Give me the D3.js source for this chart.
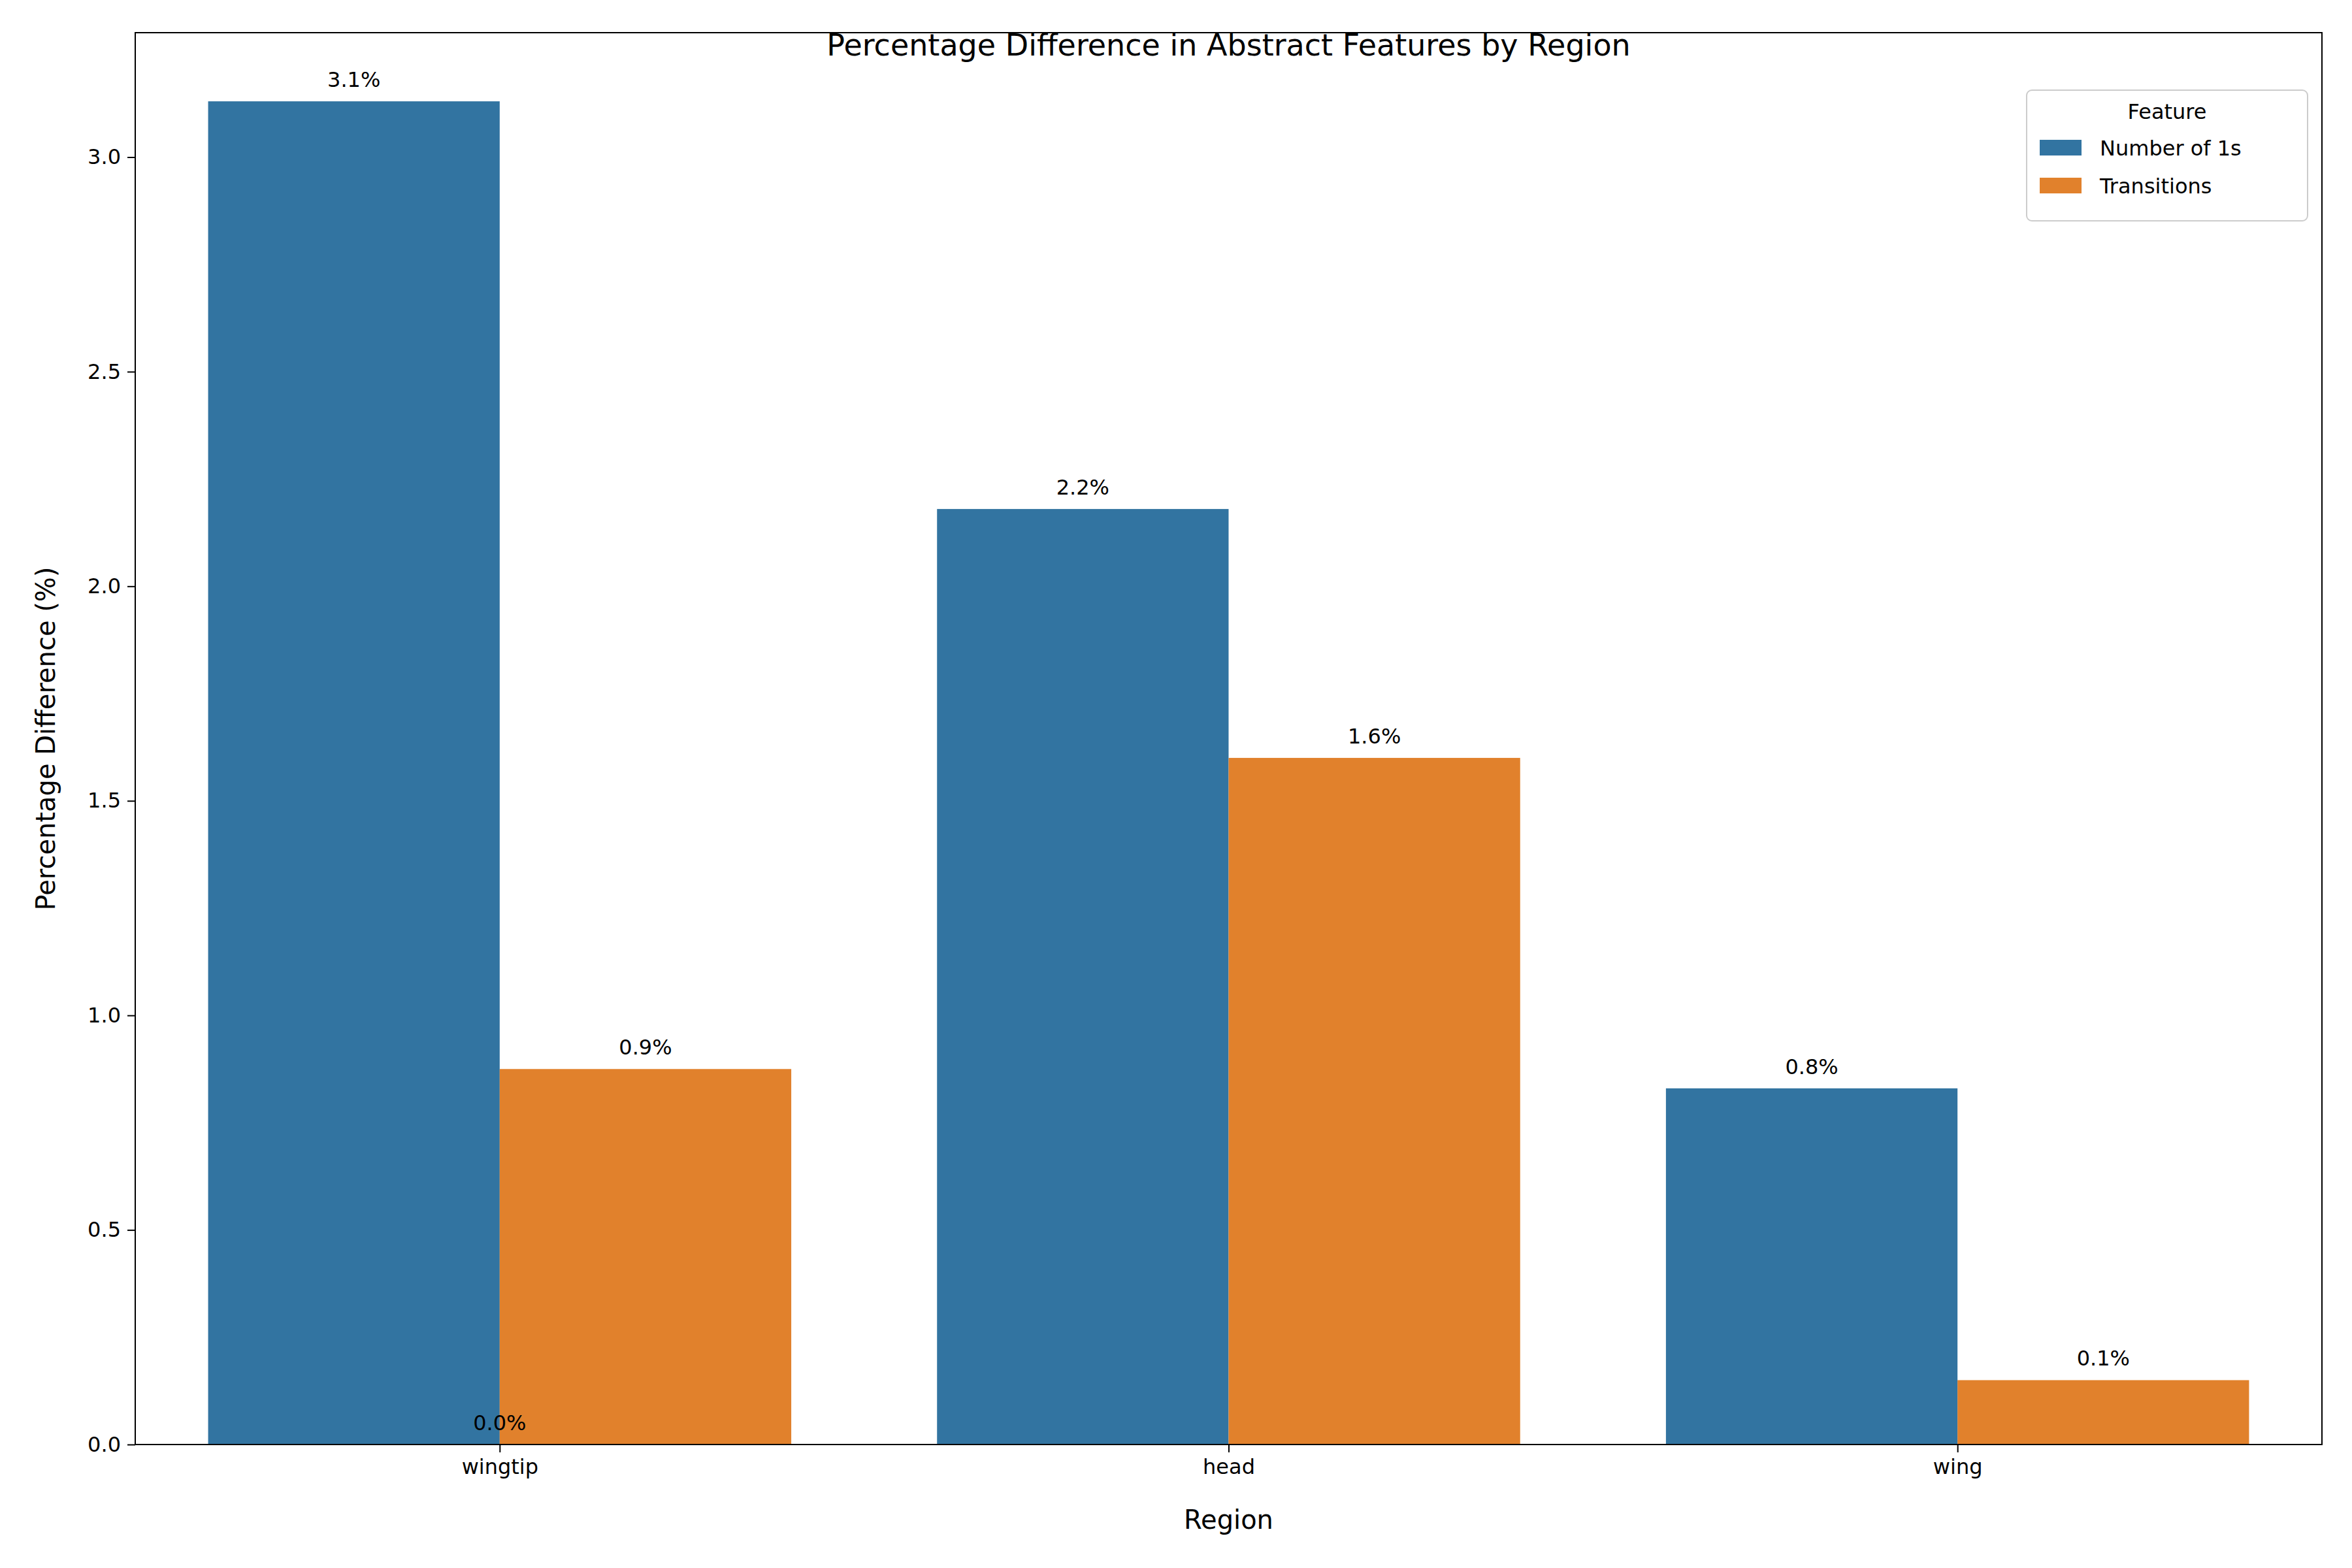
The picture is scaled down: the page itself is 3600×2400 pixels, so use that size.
<!DOCTYPE html>
<html><head><meta charset="utf-8">
<script src="https://cdn.jsdelivr.net/npm/d3@7"></script>
<style>body{margin:0;background:#fff}text{font-family:"DejaVu Sans",sans-serif}</style>
</head><body>
<svg id="chart" width="3600" height="2400"></svg>
<script>
const regions = ["wingtip", "head", "wing"]
const features = ["Number of 1s", "Transitions"]
const numOnes = [3.13, 2.18, 0.83]
const transitions = [0.875, 1.60, 0.15]
const yTicks = [0, 0.5, 1.0, 1.5, 2.0, 2.5, 3.0]
const colors = ["#3274a1", "#e1812c"]

const svg = d3.select("#chart")
const m = { left: 207, right: 3554, top: 50, bottom: 2211 }
const x = d3.scaleLinear().domain([-0.5, 2.5]).range([m.left, m.right])
const y = d3.scaleLinear().domain([0, 3.29]).range([m.bottom, m.top])
const series = [numOnes, transitions]
const bw = 0.4

series.forEach((vals, s) => {
  svg.append("g").selectAll("rect").data(vals).join("rect")
    .attr("x", (d, i) => x(i - 0.4 + s * bw))
    .attr("width", x(bw) - x(0))
    .attr("y", d => y(d))
    .attr("height", d => y(0) - y(d))
    .attr("fill", colors[s])
  svg.append("g").selectAll("text").data(vals).join("text")
    .attr("x", (d, i) => x(i - 0.2 + s * bw))
    .attr("y", d => y(d) - 22)
    .attr("text-anchor", "middle").attr("font-size", 32)
    .text(d => d.toFixed(1) + "%")
})
// zero-height artefact label
svg.append("text").attr("x", x(0)).attr("y", y(0) - 22)
  .attr("text-anchor", "middle").attr("font-size", 32).text("0.0%")

const ya = svg.append("g").attr("transform", `translate(${m.left},0)`)
  .call(d3.axisLeft(y).tickValues(yTicks).tickFormat(d3.format(".1f")).tickSize(12).tickPadding(10))
ya.selectAll("text").attr("font-size", 32).attr("font-family", "DejaVu Sans")
const xa = svg.append("g").attr("transform", `translate(0,${m.bottom})`)
  .call(d3.axisBottom(x).tickValues([0, 1, 2]).tickFormat(i => regions[i]).tickSize(12).tickPadding(10))
xa.selectAll("text").attr("font-size", 32).attr("font-family", "DejaVu Sans")
svg.selectAll(".domain").remove()
svg.selectAll(".tick line").attr("stroke-width", 2)
svg.append("rect").attr("x", m.left).attr("y", m.top)
  .attr("width", m.right - m.left).attr("height", m.bottom - m.top)
  .attr("fill", "none").attr("stroke", "#000").attr("stroke-width", 2)

svg.append("text").attr("x", (m.left + m.right) / 2).attr("y", 85)
  .attr("text-anchor", "middle").attr("font-size", 46).text("Percentage Difference in Abstract Features by Region")
svg.append("text").attr("x", (m.left + m.right) / 2).attr("y", 2340)
  .attr("text-anchor", "middle").attr("font-size", 40).text("Region")
svg.append("text").attr("transform", `translate(84,${(m.top + m.bottom) / 2}) rotate(-90)`)
  .attr("text-anchor", "middle").attr("font-size", 40).text("Percentage Difference (%)")

const lg = svg.append("g").attr("transform", "translate(3102,138)")
lg.append("rect").attr("width", 430).attr("height", 200).attr("rx", 8)
  .attr("fill", "#fff").attr("fill-opacity", 0.8).attr("stroke", "#ccc").attr("stroke-width", 2)
lg.append("text").attr("x", 215).attr("y", 44).attr("text-anchor", "middle").attr("font-size", 32).text("Feature")
features.forEach((f, i) => {
  lg.append("rect").attr("x", 20).attr("y", 76 + i * 58).attr("width", 64).attr("height", 24).attr("fill", colors[i])
  lg.append("text").attr("x", 112).attr("y", 100 + i * 58).attr("font-size", 32).text(f)
})
</script>
</body></html>
